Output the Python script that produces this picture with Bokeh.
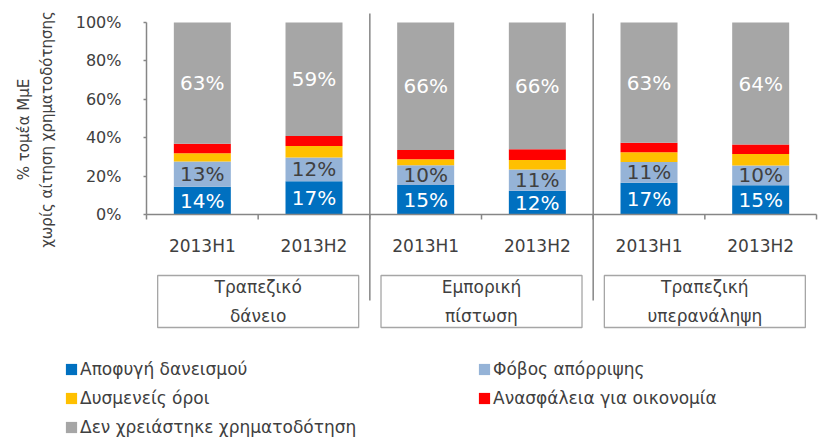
import numpy as np
from bokeh.plotting import figure
from bokeh.models import (Range1d, FixedTicker, PrintfTickFormatter, Legend,
                          LegendItem, Label, ColumnDataSource, LinearAxis)
from bokeh.core.properties import value
from bokeh.embed import file_html
from bokeh.resources import INLINE

# ---------------- data ----------------
periods = ["2013H1", "2013H2", "2013H1", "2013H2", "2013H1", "2013H2"]
groups = ["Τραπεζικό\nδάνειο", "Εμπορική\nπίστωση", "Τραπεζική\nυπερανάληψη"]
series_names = ["Αποφυγή δανεισμού", "Φόβος απόρριψης", "Δυσμενείς όροι",
                "Ανασφάλεια για οικονομία", "Δεν χρειάστηκε χρηματοδότηση"]
avoid = [14.4, 17.3, 15.3, 12.4, 16.6, 15.2]
fear = [13.2, 12.4, 10.4, 11.0, 10.8, 10.3]
terms = [4.3, 6.0, 3.1, 5.0, 5.0, 6.0]
insecurity = [4.9, 5.2, 4.8, 5.6, 5.0, 4.9]
no_need = [63.2, 59.1, 66.4, 66.0, 62.6, 63.6]
y_ticks = [0, 20, 40, 60, 80, 100]
y_title = "% τομέα ΜμΕ\nχωρίς αίτηση χρηματοδότησης"

# ---------------- layout constants (pixels) ----------------
W, H = 818, 440
PX = 111.67          # pixels per category
PY = 1.92            # pixels per percent
ZERO_X = 146         # x pixel of the value axis
ZERO_Y = 214         # y pixel of 0%

colors = ["#0070C0", "#95B3D7", "#FFC000", "#FF0000", "#A6A6A6"]
axis_gray = "#868686"
txt = "#404040"
FONT = "DejaVu Sans"

n = len(periods)
xs = np.arange(n) + 0.5
keys = ["avoid", "fear", "terms", "insecurity", "no_need"]
source = ColumnDataSource(dict(x=xs, avoid=avoid, fear=fear, terms=terms,
                               insecurity=insecurity, no_need=no_need))

p = figure(width=W, height=H, output_backend="svg", toolbar_location=None,
           x_range=Range1d(-ZERO_X / PX, (W - ZERO_X) / PX),
           y_range=Range1d((ZERO_Y - H) / PY, ZERO_Y / PY),
           x_axis_location=None, y_axis_location=None,
           min_border_left=0, min_border_right=0, min_border_top=0, min_border_bottom=0)
p.outline_line_color = None
p.grid.visible = False
p.background_fill_color = "white"
p.border_fill_color = "white"

# y axis (drawn at x = 0 of the category scale)
ax = LinearAxis(fixed_location=0, bounds=(0, 100))
ax.ticker = FixedTicker(ticks=y_ticks)
ax.formatter = PrintfTickFormatter(format="%d%%")
ax.axis_line_color = axis_gray
ax.axis_line_width = 1.5
ax.major_tick_in = 0
ax.major_tick_out = 3
ax.major_tick_line_color = axis_gray
ax.major_tick_line_width = 1.5
ax.minor_tick_line_color = None
ax.major_label_standoff = 22
ax.major_label_text_font = FONT
ax.major_label_text_font_size = "16px"
ax.major_label_text_color = txt
p.add_layout(ax, "left")

# bars
renderers = p.vbar_stack(keys, x="x", width=57 / PX, color=colors,
                         line_color=None, source=source)

# category axis line, ticks, group separators
p.segment(x0=[0], y0=[0], x1=[n], y1=[0], line_color=axis_gray, line_width=1.5)
bounds = np.arange(n + 1)
p.segment(x0=bounds, y0=np.zeros(n + 1), x1=bounds, y1=np.full(n + 1, -5 / PY),
          line_color=axis_gray, line_width=1.5)
group_bounds = np.arange(2, n, 2)
p.segment(x0=group_bounds, y0=np.full(len(group_bounds), (ZERO_Y - 13) / PY),
          x1=group_bounds, y1=np.full(len(group_bounds), (ZERO_Y - 300) / PY),
          line_color=axis_gray, line_width=1.5)

# category labels
p.text(x=xs, y=np.full(n, (ZERO_Y - 245) / PY), text=periods,
       text_align="center", text_baseline="middle", text_font=value(FONT),
       text_font_size="17px", text_color=txt)

# group boxes and labels
gx = np.arange(len(groups)) * 2 + 1.0
gy = (ZERO_Y - 301) / PY
p.rect(x=gx, y=np.full(len(groups), gy), width=1.8, height=52 / PY,
       fill_color=None, line_color="#A6A6A6", line_width=1.3)
p.text(x=gx, y=np.full(len(groups), gy), text=groups, text_align="center",
       text_baseline="middle", text_font=value(FONT), text_font_size="17px",
       text_color=txt, text_line_height=1.45)

# value labels inside bars
a = np.array(avoid); f = np.array(fear)
t = np.array(terms); r = np.array(insecurity); g = np.array(no_need)
lab_fmt = lambda arr: ["%d%%" % round(v) for v in arr]
p.text(x=xs, y=a / 2, text=lab_fmt(a), text_align="center", text_baseline="middle",
       text_font=value(FONT), text_font_size="20px", text_color="white")
p.text(x=xs, y=a + f / 2, text=lab_fmt(f), text_align="center", text_baseline="middle",
       text_font=value(FONT), text_font_size="20px", text_color=txt)
base_g = a + f + t + r
p.text(x=xs, y=base_g + g / 2, text=lab_fmt(g), text_align="center",
       text_baseline="middle", text_font=value(FONT), text_font_size="20px",
       text_color="white")

# y axis title
p.add_layout(Label(x=(35 - ZERO_X) / PX, y=(ZERO_Y - 129) / PY,
                   text=y_title, angle=np.pi / 2, text_align="center",
                   text_baseline="middle", text_font=FONT, text_font_size="15px",
                   text_color=txt, text_line_height=1.25))

# legend
items = [LegendItem(label=nm, renderers=[rr]) for nm, rr in zip(series_names, renderers)]
legend = Legend(items=items, orientation="horizontal", ncols=2,
                location=(64, H - 354 - 87),
                glyph_width=14, glyph_height=14, label_standoff=2,
                label_width=397, label_height=29, spacing=0, padding=0, margin=0,
                border_line_color=None, background_fill_alpha=0,
                label_text_font=FONT, label_text_font_size="17px",
                label_text_color=txt)
p.add_layout(legend)

open("out.html", "w").write(file_html(p, INLINE))
